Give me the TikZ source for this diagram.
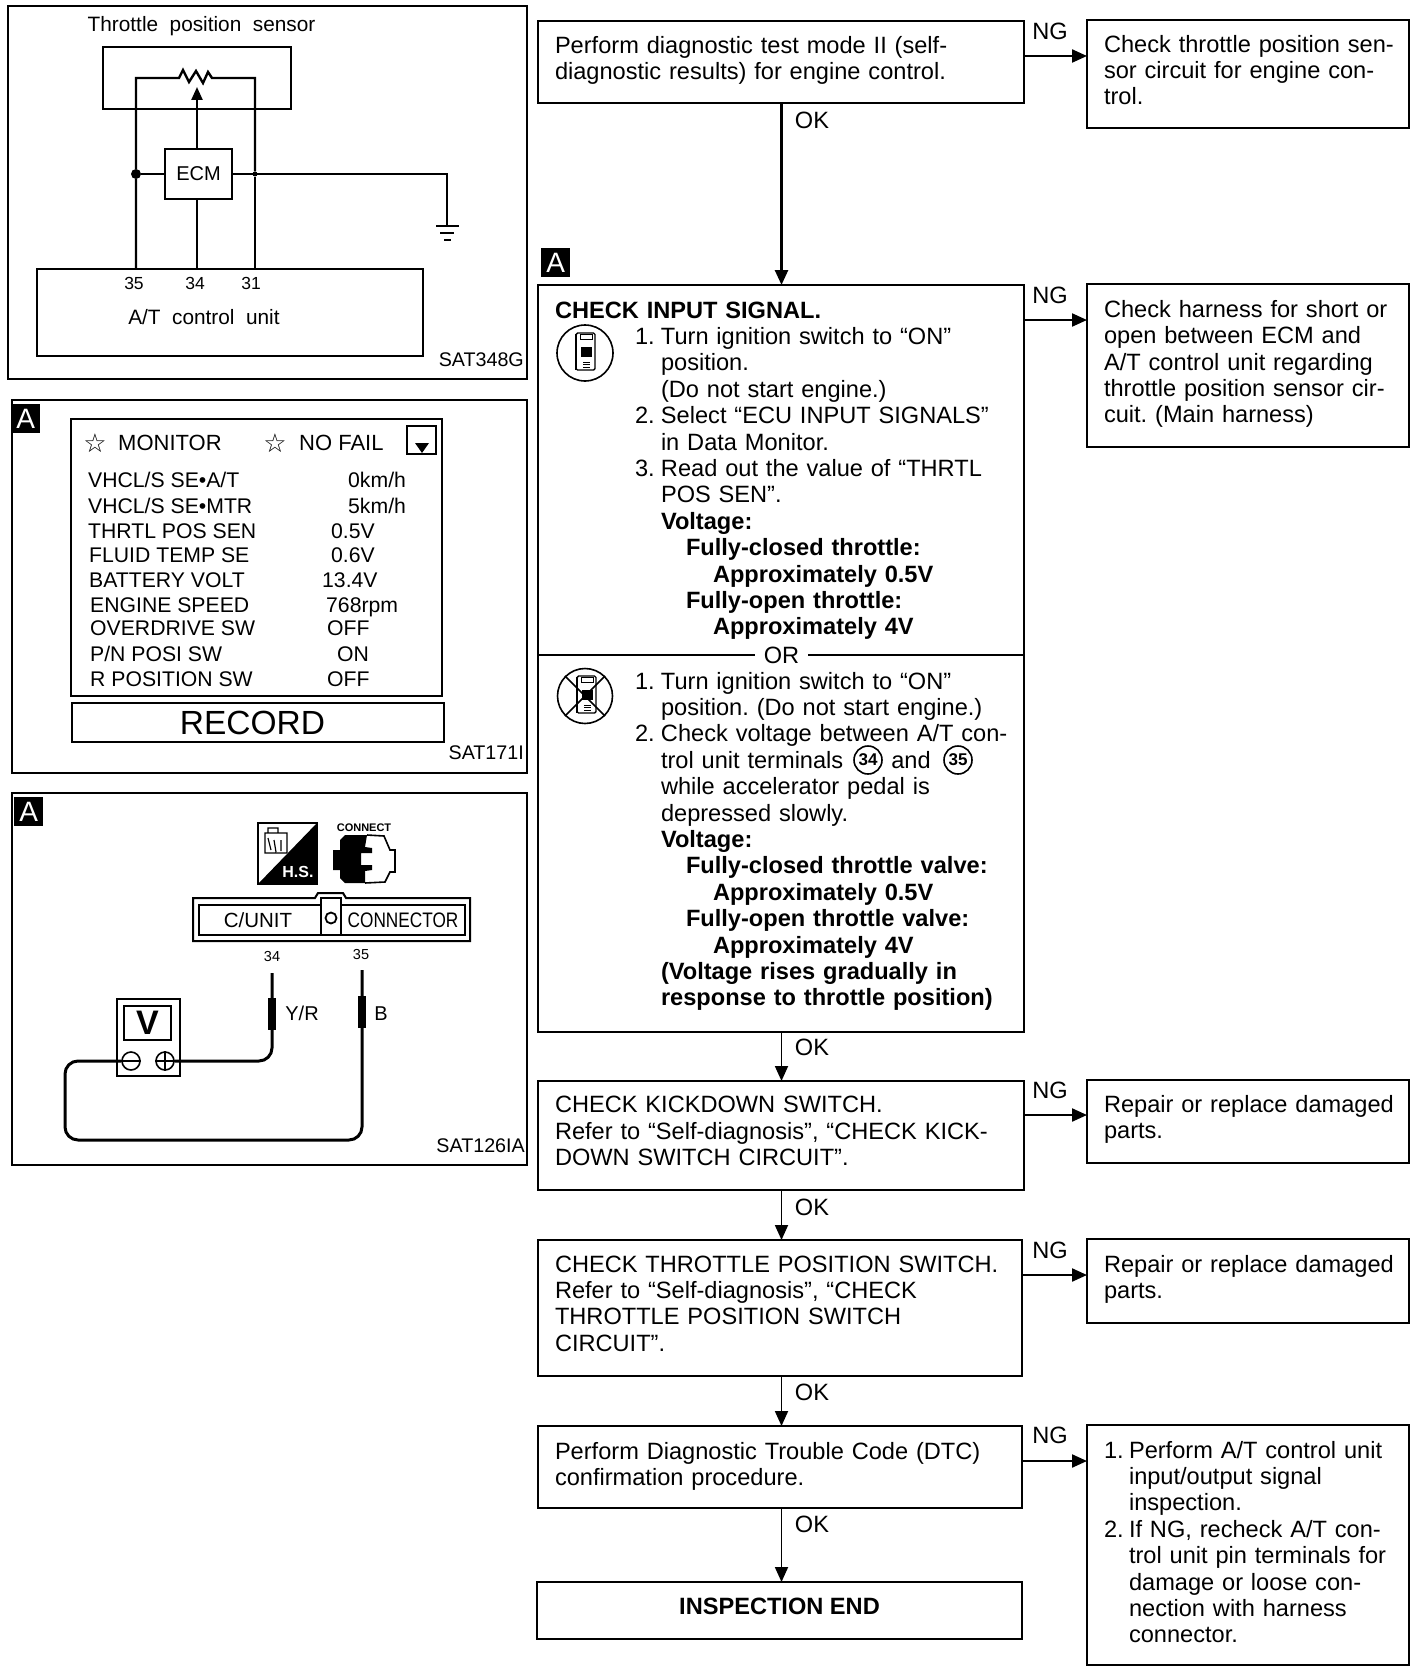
\documentclass[tikz,border=0pt]{standalone}
\usepackage{fontspec}
\setmainfont{Liberation Sans}
\newfontfamily\symfont{DejaVu Sans}
\newfontfamily\narrowfont[FakeStretch=0.82]{Liberation Sans}
\usetikzlibrary{positioning,arrows.meta,calc}

\newcommand{\sz}[1]{\fontsize{#1}{#1}\selectfont}
\newcommand{\bodyfont}{\fontsize{23.6}{26.4}\selectfont}
\newcommand{\widefont}{\fontsize{20.8}{22}\selectfont\spaceskip=11.5pt\relax}
% Indents of the numbered steps
\newcommand{\numline}[1]{\hspace*{80pt}\makebox[26pt][l]{#1}}
\newcommand{\contline}{\hspace*{106pt}}
\newcommand{\voltA}[1]{\hspace*{131pt}\textbf{#1}}
\newcommand{\voltB}[1]{\hspace*{158pt}\textbf{#1}}
% Scan tool sketch inside the round icons
\newcommand{\deviceicon}[2]{%
  \begin{scope}[shift={(#1,#2)}]
    \draw[line width=1.4pt, rounded corners=1.5pt] (-9,-20) rectangle (10,17);
    \draw[line width=2.4pt] (-9,-19) -- (-9,17);
    \draw[line width=1pt] (-5,-19) rectangle (7,-14);
    \fill (-4,-6) rectangle (7,4);
    \draw[line width=1pt] (-2,9) -- (5,9) (-2,11.5) -- (5,11.5) (-2,14) -- (5,14);
  \end{scope}}

\begin{document}
\frenchspacing
\begin{tikzpicture}[
    x=1pt, y=-1pt,
    % Outlines
    frame/.style={draw, line width=2pt, inner sep=0pt, outer sep=0pt, anchor=north west},
    sized/.style 2 args={minimum width=#1pt, minimum height=#2pt},
    box/.style 2 args={frame, sized={#1}{#2}, text width=#1pt-12pt, inner xsep=6pt,
                       align=left, font=\bodyfont, execute at begin node={\leftskip=11pt}},
    deep/.style={execute at end node={\rule[-#1pt]{0pt}{#1pt}}},
    % Labels
    tag/.style={inner sep=0pt, font=\bodyfont},
    badge/.style={fill=black, text=white, inner sep=0pt, minimum size=29pt, font=\sz{28}},
    code/.style={anchor=east, inner sep=0pt, font=\sz{19.7}},
    wide/.style={inner sep=0pt, font=\widefont},
    pinno/.style={inner sep=0pt, font=\sz{17.5}},
    row/.style={anchor=west, inner sep=0pt, text height=13.5pt, text depth=0pt, font=\sz{21.2}},
    % Connectors
    arrow/.style={-{Stealth[length=15pt,width=13pt,inset=0pt]}, line width=1.8pt},
    wire/.style={line width=2.4pt},
    thinwire/.style={line width=1.6pt},
    probe/.style={line width=3pt, rounded corners=13pt},
    dot/.style={circle, fill=black, inner sep=0pt, minimum size=#1pt},
    sleeve/.style={fill=black, inner sep=0pt, minimum width=8pt, minimum height=32pt},
    term/.style={circle, draw, line width=1.6pt, fill=white, inner sep=0pt, minimum size=18pt}
]
\useasboundingbox (0,0) rectangle (1424,1672);

% Throttle position sensor circuit
\node[frame, sized={519}{373}] (panel1) at (8,6) {};
\node[wide, anchor=west] (sensorname) at (87.5,26) {Throttle position sensor};
\node[frame, sized={188}{62}] (sensor) at (103,47) {};
\node[frame, sized={386}{87}] (unit) at (37,269) {};
\node[frame, sized={67}{50}, line width=2.2pt, font=\sz{20}] (ecm) at (165,149) {ECM};
\node[wide] (unitname) at (204,317) {A/T control unit};
\node[pinno] (pin35) at (134,283) {35};
\node[pinno] (pin34) at (195,283) {34};
\node[pinno] (pin31) at (251,283) {31};
\node[code] (sat348) at (524,360) {SAT348G};
\node[dot=10] (junc35) at (136,174) {};
\node[dot=5] (junc31) at (255,174) {};
\coordinate (gnd) at (447,226);
\coordinate (wiper) at (197,87);

\draw[wire] (unit.north -| junc35) -- (junc35) |- (179,78) -- (183,70) -- (189,82) -- (196,71)
    -- (203,83) -- (208,72) -- (212,78) -- (222,78) -| (junc31);
\draw[thinwire, line width=2pt] (junc31) -- (unit.north -| junc31);
\draw[wire] (junc35) -- (ecm.west);
\draw[wire, -{Stealth[length=13pt,width=11pt,inset=0pt]}] (ecm.north -| wiper) -- (wiper);
\draw[wire] (ecm.south -| wiper) -- (unit.north -| wiper);
\draw[thinwire] (ecm.east) -| (gnd);
\draw[thinwire] ([xshift=-11pt]gnd) -- ([xshift=12pt]gnd);
\draw[thinwire] ([shift={(-7,7)}]gnd) -- ([shift={(7,7)}]gnd);
\draw[thinwire] ([shift={(-3,14)}]gnd) -- ([shift={(4,14)}]gnd);

% Data monitor screen
\node[frame, sized={515}{373}] (panel2) at (12,400) {};
\node[badge, anchor=north west] (badge2) at (11,404) {A};
\node[frame, sized={371}{277}] (screen) at (71,419) {};
\node[frame, sized={372}{39}, line width=2.2pt, font=\sz{33.5}] (record) at (72,703) {RECORD\hspace*{11pt}};
\node[inner sep=0pt, font=\symfont\sz{26}] (star1) at (95,443) {☆};
\node[inner sep=0pt, font=\symfont\sz{26}] (star2) at (275,443) {☆};
\node[row, font=\sz{22}] (monitor) at (118,444) {MONITOR};
\node[row, font=\sz{22}] (nofail) at (299,444) {NO FAIL};
\node[frame, sized={29}{28}] (dropbox) at (407,426) {};
\fill (415,443) -- (429,443) -- (422,453) -- cycle;
\node[row] (name1) at (88,481) {VHCL/S SE•A/T};
\node[row] (val1) at (348,481) {0km/h};
\node[row] (name2) at (88,507) {VHCL/S SE•MTR};
\node[row] (val2) at (348,507) {5km/h};
\node[row] (name3) at (88,532) {THRTL POS SEN};
\node[row] (val3) at (331,532) {0.5V};
\node[row] (name4) at (89,556) {FLUID TEMP SE};
\node[row] (val4) at (331,556) {0.6V};
\node[row] (name5) at (89,581) {BATTERY VOLT};
\node[row] (val5) at (322,581) {13.4V};
\node[row] (name6) at (90,606) {ENGINE SPEED};
\node[row] (val6) at (326,606) {768rpm};
\node[row] (name7) at (90,629) {OVERDRIVE SW};
\node[row] (val7) at (327,629) {OFF};
\node[row] (name8) at (90,655) {P/N POSI SW};
\node[row] (val8) at (337,655) {ON};
\node[row] (name9) at (90,680) {R POSITION SW};
\node[row] (val9) at (327,680) {OFF};
\node[code] (sat171) at (524,753) {SAT171I};

% Voltage check at the connector
\node[frame, sized={515}{372}] (panel3) at (12,793) {};
\node[badge, anchor=north west] (badge3) at (14,797) {A};
\node[frame, sized={59}{61}, line width=1.4pt] (hsicon) at (258,823) {};
\fill (hsicon.north east) -- (hsicon.south east) -- (hsicon.south west) -- cycle;
\draw[line width=1.2pt] (265,833) rectangle (287,853) (268,833) rectangle (278,828)
    (268,838) -- (271,850) (274,840) -- (276,852) (281,840) -- (281,851);
\node[inner sep=0pt, text=white, font=\bfseries\sz{16}] (hslabel) at (298,872) {H.S.};
\node[inner sep=0pt, font=\bfseries\sz{11}] (connectlabel) at (364,828) {CONNECT};
\fill (333,850) -- (340,850) -- (340,840) -- (345,835) -- (367,835) -- (365,847) -- (372,848)
    -- (372,853) -- (361,853) -- (361,865) -- (372,865) -- (372,870) -- (365,871) -- (365,883)
    -- (345,883) -- (340,878) -- (340,870) -- (333,870) -- cycle;
\draw[line width=1.6pt] (367,835) -- (384,836) -- (390,850) -- (395,850) -- (395,872)
    -- (390,872) -- (385,882) -- (365,883);
\draw[line width=2pt] (193,898) -- (315,898) -- (318,893) -- (343,893) -- (346,898) -- (470,898)
    -- (470,941) -- (193,941) -- cycle;
\node[frame, sized={122}{30}, font=\sz{20.5}] (cunit) at (199,905) {C/UNIT\hspace*{4pt}};
\node[frame, sized={20}{37}] (plateslot) at (321,898) {};
\node[circle, draw, line width=1.8pt, inner sep=0pt, minimum size=11pt] (lamp) at (331,918) {};
\node[frame, sized={124}{30}, font=\narrowfont\sz{21}] (connector) at (341,905) {CONNECTOR};
\node[inner sep=0pt, font=\sz{14.5}] (term34) at (272,956) {34};
\node[inner sep=0pt, font=\sz{14.5}] (term35) at (361,954) {35};
\coordinate (tip34) at (272,973);
\coordinate (tip35) at (362,970);
\coordinate (loopcorner) at (65,1140);
\node[frame, sized={63}{77}] (meter) at (117,999) {};
\node[frame, sized={47}{34}, font=\bfseries\sz{34}] (vscreen) at (124,1006) {V};
\node[term] (minus) at (131,1061) {};
\node[term] (plus) at (165,1061) {};
\draw[line width=1.4pt] (minus.west) -- (minus.east) (plus.west) -- (plus.east) (plus.north) -- (plus.south);
\draw[probe] (plus.east) -| (tip34);
\draw[probe] (tip35) |- (loopcorner) |- (minus.west);
\node[sleeve] (sleeve34) at (272,1014) {};
\node[sleeve] (sleeve35) at (362,1012) {};
\node[right=9pt of sleeve34, yshift=1pt, inner sep=0pt, font=\sz{20}] (wire34) {Y/R};
\node[right=8pt of sleeve35, yshift=-2pt, inner sep=0pt, font=\sz{20}] (wire35) {B};
\node[code] (sat126) at (525,1146) {SAT126IA};

% Flow chart, left column
\coordinate (flowx) at (781.5,0);
\node[box={486}{82}, deep=8] (diag) at (538,21) {Perform diagnostic test mode II (self-\\diagnostic results) for engine control.};
\node[badge, anchor=north west] (badge1) at (541,248) {A};
\node[box={486}{370}] (check) at (538,285) {\rule{0pt}{18pt}\textbf{CHECK INPUT SIGNAL.}\\
  \numline{1.}Turn ignition switch to “ON”\\
  \contline position.\\
  \contline (Do not start engine.)\\
  \numline{2.}Select “ECU INPUT SIGNALS”\\
  \contline in Data Monitor.\\
  \numline{3.}Read out the value of “THRTL\\
  \contline POS SEN”.\\
  \contline\textbf{Voltage:}\\
  \voltA{Fully-closed throttle:}\\
  \voltB{Approximately 0.5V}\\
  \voltA{Fully-open throttle:}\\
  \voltB{Approximately 4V}};
\node[box={486}{377}, deep=9] (checkalt) at (538,655) {\numline{1.}Turn ignition switch to “ON”\\
  \contline position. (Do not start engine.)\\
  \numline{2.}Check voltage between A/T con-\\
  \contline trol unit terminals\hspace{48pt}and\\
  \contline while accelerator pedal is\\
  \contline depressed slowly.\\
  \contline\textbf{Voltage:}\\
  \voltA{Fully-closed throttle valve:}\\
  \voltB{Approximately 0.5V}\\
  \voltA{Fully-open throttle valve:}\\
  \voltB{Approximately 4V}\\
  \contline\textbf{(Voltage rises gradually in}\\
  \contline\textbf{response to throttle position)}};
\node[fill=white, inner xsep=9pt, inner ysep=0pt, font=\bodyfont] (orlabel) at (781.5,655) {OR};
\node[circle, draw, line width=1.6pt, inner sep=0pt, minimum size=28pt, font=\bfseries\sz{17}] (num34) at (868,760) {34};
\node[circle, draw, line width=1.6pt, inner sep=0pt, minimum size=28pt, font=\bfseries\sz{17}] (num35) at (958,760) {35};
\node[box={486}{109}, deep=9] (kick) at (538,1081) {CHECK KICKDOWN SWITCH.\\Refer to “Self-diagnosis”, “CHECK KICK-\\DOWN SWITCH CIRCUIT”.};
\node[box={484}{136}, deep=9] (tps) at (538,1240) {CHECK THROTTLE POSITION SWITCH.\\Refer to “Self-diagnosis”, “CHECK\\THROTTLE POSITION SWITCH\\CIRCUIT”.};
\node[box={484}{82}, deep=6] (dtc) at (538,1426) {Perform Diagnostic Trouble Code (DTC)\\confirmation procedure.};
\node[frame, sized={485}{57}, deep=8, font=\bfseries\bodyfont] (endbox) at (537,1582) {INSPECTION END};

% Icons in the check box
\node[circle, draw, line width=1.6pt, inner sep=0pt, minimum size=56pt] (iconon) at (585,353) {};
\deviceicon{585}{353}
\deviceicon{586}{696}
\node[circle, draw, line width=1.6pt, inner sep=0pt, minimum size=55pt] (iconoff) at (585,696) {};
\draw[line width=1.6pt] (iconoff.north west) -- (iconoff.south east) (iconoff.north east) -- (iconoff.south west);

% Flow chart, right column
\node[box={322}{108}, deep=8] (diagfix) at (1087,20) {Check throttle position sen-\\sor circuit for engine con-\\trol.};
\node[box={322}{163}, deep=8] (checkfix) at (1087,284) {Check harness for short or\\open between ECM and\\A/T control unit regarding\\throttle position sensor cir-\\cuit. (Main harness)};
\node[box={322}{83}, deep=9] (kickfix) at (1087,1080) {Repair or replace damaged\\parts.};
\node[box={322}{84}, deep=8] (tpsfix) at (1087,1239) {Repair or replace damaged\\parts.};
\node[box={322}{240}, deep=6] (dtcfix) at (1087,1425) {\makebox[25pt][l]{1.}Perform A/T control unit\\
  \hspace*{25pt}input/output signal\\
  \hspace*{25pt}inspection.\\
  \makebox[25pt][l]{2.}If NG, recheck A/T con-\\
  \hspace*{25pt}trol unit pin terminals for\\
  \hspace*{25pt}damage or loose con-\\
  \hspace*{25pt}nection with harness\\
  \hspace*{25pt}connector.};

% OK arrows
\draw[arrow, line width=2.6pt] (diag.south -| flowx) -- (check.north -| flowx);
\draw[arrow] (checkalt.south -| flowx) -- (kick.north -| flowx);
\draw[arrow] (kick.south -| flowx) -- (tps.north -| flowx);
\draw[arrow] (tps.south -| flowx) -- (dtc.north -| flowx);
\draw[arrow] (dtc.south -| flowx) -- (endbox.north -| flowx);
\node[tag] (ok1) at (812,120) {OK};
\node[tag] (ok2) at (812,1047) {OK};
\node[tag] (ok3) at (812,1207) {OK};
\node[tag] (ok4) at (812,1392) {OK};
\node[tag] (ok5) at (812,1524) {OK};

% NG arrows
\draw[arrow, line width=2.2pt] ([yshift=6pt]diag.east) -- ([yshift=18pt]diagfix.west);
\draw[arrow, line width=2.2pt] ([yshift=150pt]check.east) -- ([yshift=45.5pt]checkfix.west);
\draw[arrow, line width=2.2pt] ([yshift=20.5pt]kick.east) -- ([yshift=6.5pt]kickfix.west);
\draw[arrow, line width=2.2pt] ([yshift=33pt]tps.east) -- ([yshift=6pt]tpsfix.west);
\draw[arrow, line width=2.2pt] ([yshift=6pt]dtc.east) -- ([yshift=84pt]dtcfix.west);
\node[tag] (ng1) at (1050,31) {NG};
\node[tag] (ng2) at (1050,295) {NG};
\node[tag] (ng3) at (1050,1090) {NG};
\node[tag] (ng4) at (1050,1250) {NG};
\node[tag] (ng5) at (1050,1435) {NG};

\end{tikzpicture}
\end{document}
